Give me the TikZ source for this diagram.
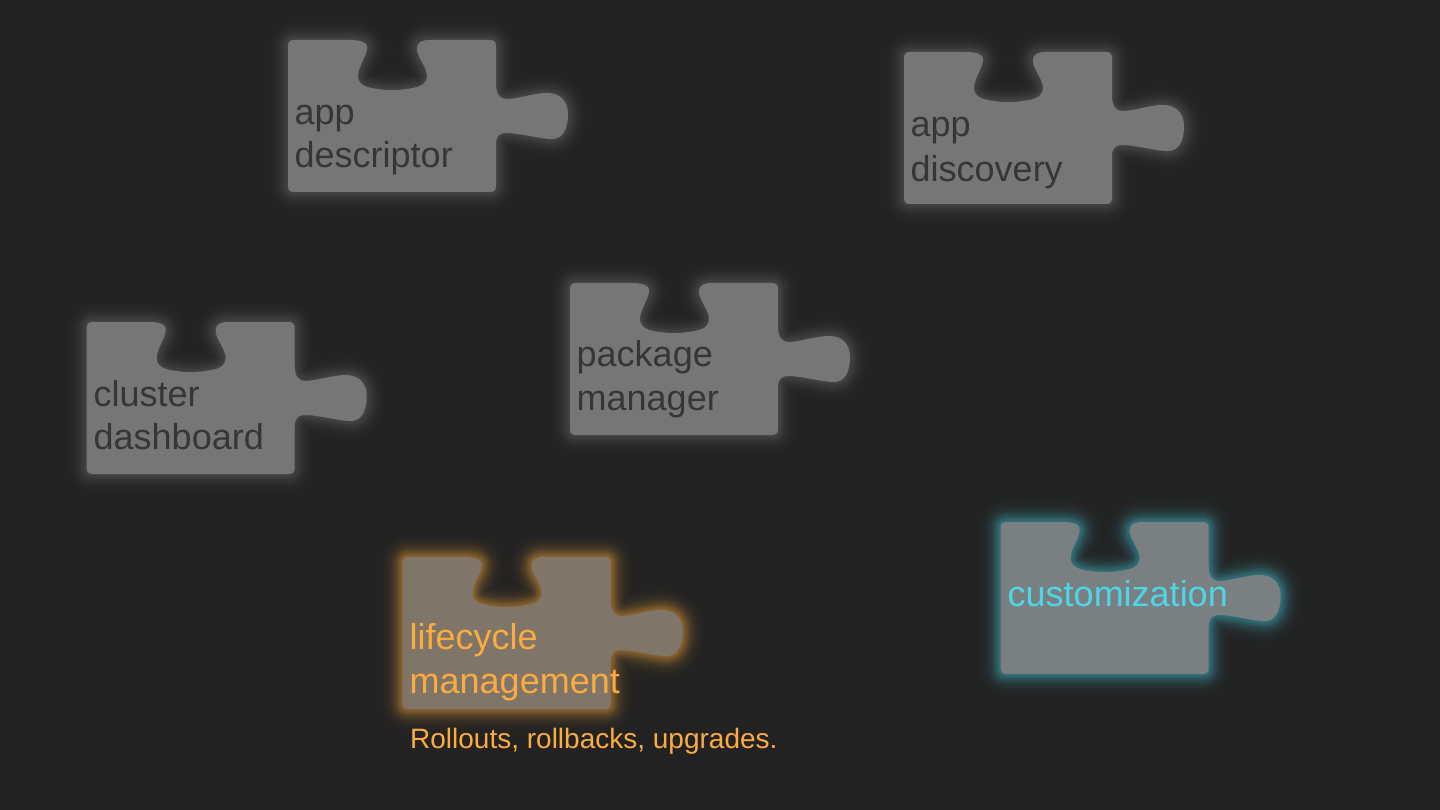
\documentclass[tikz,border=0pt]{standalone}
\usepackage{fontspec}
\setmainfont{Liberation Sans}
\definecolor{bgc}{HTML}{222222}
\definecolor{greyfill}{HTML}{767676}
\definecolor{greyglow}{HTML}{B0B0B0}
\definecolor{greytext}{HTML}{363636}
\definecolor{orangefill}{HTML}{7F7568}
\definecolor{orangeglow}{HTML}{F5A63A}
\definecolor{orangetext}{HTML}{FBAB3F}
\definecolor{cyanfill}{HTML}{7A8082}
\definecolor{cyanglow}{HTML}{45CFE3}
\definecolor{cyantext}{HTML}{4DD6E8}
\newcommand{\piecepath}{
  (6,0) -- (62,0) .. controls (72,0) and (80,2) .. (79,9)
  .. controls (78,17) and (70,27) .. (70,36)
  .. controls (70,45) and (79,48) .. (90,49)
  .. controls (102,51) and (114,50) .. (125,48)
  .. controls (135,46) and (139,42) .. (139,36)
  .. controls (139,27) and (129,17) .. (129,9)
  .. controls (129,2) and (134,0) .. (142,0)
  -- (202,0) .. controls (206,0) and (208,2) .. (208,6)
  -- (208,44) .. controls (208,54) and (212,59) .. (218,59)
  .. controls (230,59) and (246,53) .. (259,53)
  .. controls (271,53) and (280,60) .. (280,74)
  .. controls (280,90) and (274,99) .. (264,99)
  .. controls (252,99) and (232,93) .. (218,93)
  .. controls (212,93) and (208,96) .. (208,104)
  -- (208,146) .. controls (208,150) and (206,152) .. (202,152)
  -- (6,152) .. controls (2,152) and (0,150) .. (0,146)
  -- (0,6) .. controls (0,2) and (2,0) .. (6,0) -- cycle}
% #1 x, #2 y, #3 fill, #4 glow, #5 glow percentage at the edge
\newcommand{\piece}[5]{
  \begin{scope}[shift={(#1,#2)}]
    \foreach \d in {30,29,...,1}{
      \pgfmathsetmacro{\pct}{#5*exp(-(\d/9)^1.4)}
      \pgfmathsetmacro{\wid}{2*\d}
      \draw[draw={#4!\pct!bgc},line width=\wid pt,line join=round] \piecepath;
    }
    \fill[#3] \piecepath;
  \end{scope}}
\tikzset{
  plabel/.style={anchor=base west,inner sep=0pt,align=left,font=\fontsize{36}{44}\selectfont},
  note/.style={anchor=base west,inner sep=0pt,font=\fontsize{28}{32}\selectfont}
}
\begin{document}
\begin{tikzpicture}[x=1pt,y=-1pt]
\useasboundingbox (0,0) rectangle (1440,810);
\fill[bgc] (0,0) rectangle (1440,810);
\piece{288}{40}{greyfill}{greyglow}{24}
\piece{904}{52}{greyfill}{greyglow}{24}
\piece{86.7}{322}{greyfill}{greyglow}{24}
\piece{570}{283}{greyfill}{greyglow}{24}
\piece{402.7}{557}{orangefill}{orangeglow}{50}
\piece{1000.7}{522}{cyanfill}{cyanglow}{46}
\node[plabel,text=greytext] (descriptor) at (294.5,167.5) {app\\[-1.5pt]descriptor};
\node[plabel,text=greytext] (discovery) at (910.5,181.5) {app\\[0.5pt]discovery};
\node[plabel,text=greytext] (dashboard) at (93.5,449.5) {cluster\\[-1pt]dashboard};
\node[plabel,text=greytext] (manager) at (576.5,410.5) {package\\manager};
\node[plabel,text=orangetext] (lifecycle) at (409.5,693) {lifecycle\\management};
\node[plabel,text=cyantext] (customization) at (1007.5,606) {customization};
\node[note,text=orangetext] (rollouts) at (410,748) {Rollouts, rollbacks, upgrades.};
\end{tikzpicture}
\end{document}
